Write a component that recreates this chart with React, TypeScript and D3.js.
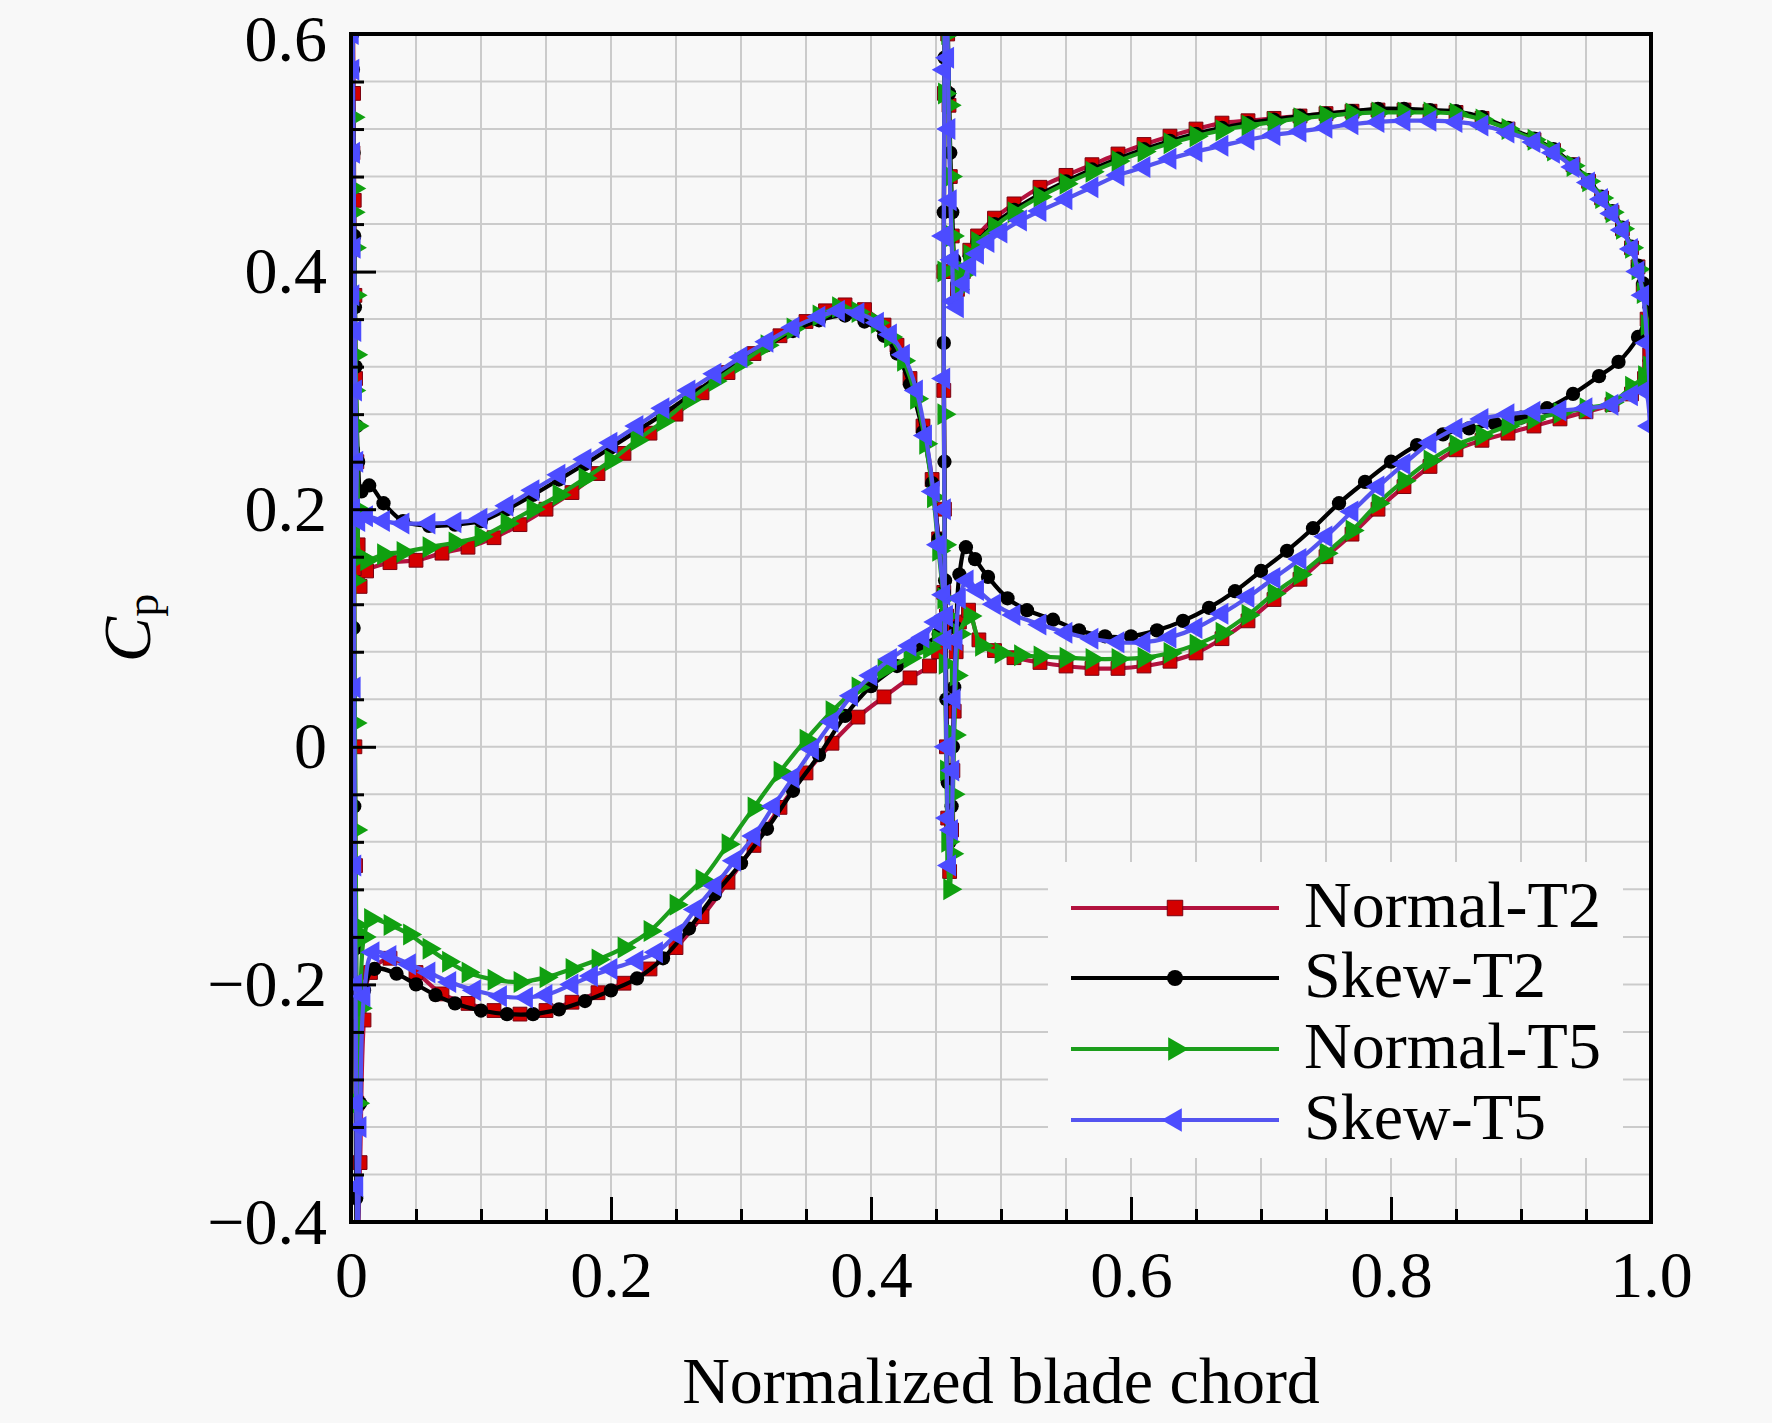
import * as d3 from "d3";
import React, { useEffect, useRef } from "react";

type Pt = [number, number];

// Normal-T2
const normalT2LeftUpper: Pt[] = [
  [0.0005, 0.9], [0.001, 0.72], [0.0015, 0.62], [0.002, 0.55], [0.0025, 0.46], [0.003, 0.38],
  [0.0035, 0.31], [0.0045, 0.24], [0.0055, 0.17], [0.007, 0.135], [0.012, 0.148],
  [0.03, 0.155], [0.05, 0.157], [0.07, 0.163], [0.09, 0.168], [0.11, 0.176], [0.13, 0.187],
  [0.15, 0.2], [0.17, 0.214], [0.19, 0.23], [0.21, 0.247], [0.23, 0.264], [0.25, 0.28],
  [0.27, 0.298], [0.29, 0.315], [0.31, 0.331], [0.33, 0.346], [0.35, 0.358], [0.365, 0.367],
  [0.38, 0.372], [0.395, 0.368], [0.41, 0.355], [0.42, 0.338], [0.43, 0.31], [0.44, 0.27],
  [0.447, 0.225], [0.452, 0.175], [0.456, 0.13], [0.458, 0.11],
];
const normalT2LeftLower: Pt[] = [
  [0.0005, 0.9], [0.001, 0.7], [0.0015, 0.5], [0.002, 0.3], [0.0025, 0.15], [0.003, 0.0],
  [0.0035, -0.1], [0.004, -0.2], [0.0045, -0.3], [0.005, -0.42], [0.007, -0.35],
  [0.01, -0.23], [0.015, -0.19], [0.03, -0.178], [0.05, -0.19], [0.07, -0.208], [0.09, -0.216],
  [0.11, -0.222], [0.13, -0.225], [0.15, -0.222], [0.17, -0.215], [0.19, -0.207], [0.21, -0.199],
  [0.23, -0.187], [0.25, -0.169], [0.27, -0.143], [0.29, -0.114], [0.31, -0.083], [0.33, -0.051],
  [0.35, -0.022], [0.37, 0.003], [0.39, 0.025], [0.41, 0.042], [0.43, 0.058], [0.445, 0.068],
  [0.452, 0.08], [0.458, 0.11],
];
const normalT2RightUpper: Pt[] = [
  [0.4575, 0.85], [0.458, 0.75], [0.4585, 0.66], [0.459, 0.6], [0.46, 0.54], [0.461, 0.48],
  [0.4625, 0.43], [0.464, 0.4], [0.4665, 0.385], [0.471, 0.4], [0.476, 0.418],
  [0.482, 0.43], [0.495, 0.445], [0.51, 0.457], [0.53, 0.471], [0.55, 0.481], [0.57, 0.49],
  [0.59, 0.499], [0.61, 0.507], [0.63, 0.514], [0.65, 0.52], [0.67, 0.525], [0.69, 0.527],
  [0.71, 0.529], [0.73, 0.531], [0.75, 0.533], [0.77, 0.535], [0.79, 0.536], [0.81, 0.536],
  [0.83, 0.535], [0.85, 0.534], [0.87, 0.529], [0.89, 0.52], [0.91, 0.511], [0.925, 0.502],
  [0.94, 0.49], [0.952, 0.476], [0.962, 0.462], [0.97, 0.45], [0.978, 0.436], [0.985, 0.42],
  [0.99, 0.404], [0.994, 0.385], [0.997, 0.36], [0.999, 0.33],
];
const normalT2RightLower: Pt[] = [
  [0.4575, 0.85], [0.457, 0.7], [0.4565, 0.55], [0.456, 0.4], [0.456, 0.3], [0.4565, 0.2],
  [0.457, 0.1], [0.458, 0.0], [0.459, -0.06], [0.4605, -0.105], [0.462, -0.07], [0.463, -0.02],
  [0.464, 0.03], [0.4655, 0.08], [0.468, 0.105], [0.475, 0.115], [0.483, 0.09], [0.495, 0.081],
  [0.51, 0.075], [0.53, 0.071], [0.55, 0.068], [0.57, 0.066], [0.59, 0.066], [0.61, 0.068],
  [0.63, 0.072], [0.65, 0.079], [0.67, 0.091], [0.69, 0.106], [0.71, 0.124], [0.73, 0.141],
  [0.75, 0.16], [0.77, 0.179], [0.79, 0.2], [0.81, 0.219], [0.83, 0.236], [0.85, 0.25],
  [0.87, 0.258], [0.89, 0.264], [0.91, 0.27], [0.93, 0.276], [0.95, 0.282], [0.97, 0.288],
  [0.985, 0.297], [0.995, 0.31], [0.999, 0.32],
];

// Skew-T2
const skewT2LeftUpper: Pt[] = [
  [0.0005, 0.9], [0.001, 0.68], [0.0015, 0.57], [0.002, 0.5], [0.0025, 0.43], [0.003, 0.37],
  [0.0035, 0.32], [0.0045, 0.27], [0.0055, 0.24], [0.008, 0.215],
  [0.014, 0.22], [0.025, 0.205], [0.04, 0.19], [0.06, 0.186], [0.08, 0.187], [0.1, 0.19],
  [0.12, 0.2], [0.14, 0.212], [0.16, 0.225], [0.18, 0.238], [0.2, 0.252], [0.22, 0.266],
  [0.24, 0.28], [0.26, 0.295], [0.28, 0.31], [0.3, 0.325], [0.32, 0.338], [0.34, 0.35],
  [0.36, 0.359], [0.38, 0.363], [0.395, 0.358], [0.41, 0.346], [0.42, 0.331], [0.43, 0.305],
  [0.44, 0.265], [0.447, 0.222], [0.452, 0.175], [0.456, 0.13], [0.458, 0.11],
];
const skewT2LeftLower: Pt[] = [
  [0.0005, 0.9], [0.001, 0.6], [0.0015, 0.25], [0.002, 0.1], [0.0025, -0.05], [0.003, -0.17],
  [0.0035, -0.3], [0.004, -0.38], [0.0045, -0.45], [0.007, -0.3],
  [0.01, -0.205], [0.018, -0.187], [0.035, -0.191], [0.05, -0.2], [0.065, -0.209], [0.08, -0.216],
  [0.1, -0.222], [0.12, -0.225], [0.14, -0.225], [0.16, -0.221], [0.18, -0.214], [0.2, -0.205],
  [0.22, -0.195], [0.24, -0.178], [0.26, -0.153], [0.28, -0.124], [0.3, -0.098], [0.32, -0.069],
  [0.34, -0.037], [0.36, -0.007], [0.38, 0.026], [0.4, 0.051], [0.42, 0.068], [0.44, 0.085],
  [0.452, 0.095], [0.458, 0.11],
];
const skewT2RightUpper: Pt[] = [
  [0.4575, 0.85], [0.458, 0.76], [0.4585, 0.68], [0.459, 0.61], [0.46, 0.55], [0.461, 0.5],
  [0.4625, 0.45], [0.464, 0.41], [0.4665, 0.39], [0.471, 0.398], [0.476, 0.413],
  [0.482, 0.425], [0.495, 0.44], [0.51, 0.452], [0.53, 0.465], [0.55, 0.476], [0.57, 0.486],
  [0.59, 0.495], [0.61, 0.503], [0.63, 0.51], [0.65, 0.516], [0.67, 0.521], [0.69, 0.525],
  [0.71, 0.528], [0.73, 0.531], [0.75, 0.533], [0.77, 0.535], [0.79, 0.537], [0.81, 0.537],
  [0.83, 0.536], [0.85, 0.535], [0.87, 0.53], [0.89, 0.521], [0.91, 0.512], [0.925, 0.503],
  [0.94, 0.49], [0.952, 0.477], [0.962, 0.463], [0.97, 0.451], [0.978, 0.437], [0.985, 0.421],
  [0.99, 0.405], [0.994, 0.39], [0.997, 0.38], [0.999, 0.37],
];
const skewT2RightLower: Pt[] = [
  [0.4575, 0.85], [0.457, 0.72], [0.4565, 0.58], [0.456, 0.45], [0.456, 0.34], [0.4565, 0.24],
  [0.457, 0.14], [0.458, 0.04], [0.459, -0.03], [0.4605, -0.08], [0.462, -0.05], [0.463, 0.0],
  [0.464, 0.05], [0.4655, 0.1], [0.468, 0.145], [0.473, 0.168], [0.48, 0.158], [0.49, 0.143],
  [0.505, 0.125], [0.52, 0.115], [0.54, 0.107], [0.56, 0.098], [0.58, 0.093], [0.6, 0.093],
  [0.62, 0.098], [0.64, 0.106], [0.66, 0.117], [0.68, 0.131], [0.7, 0.148], [0.72, 0.165],
  [0.74, 0.184], [0.76, 0.205], [0.78, 0.223], [0.8, 0.24], [0.82, 0.254], [0.84, 0.263],
  [0.86, 0.268], [0.88, 0.272], [0.9, 0.277], [0.92, 0.285], [0.94, 0.297], [0.96, 0.312],
  [0.975, 0.324], [0.99, 0.345], [0.999, 0.37],
];

// Normal-T5
const normalT5LeftUpper: Pt[] = [
  [0.0005, 0.9], [0.001, 0.62], [0.0015, 0.53], [0.002, 0.47], [0.0025, 0.42], [0.003, 0.38],
  [0.0035, 0.33], [0.0045, 0.27], [0.0055, 0.2], [0.007, 0.16], [0.012, 0.157],
  [0.025, 0.162], [0.04, 0.164], [0.06, 0.168], [0.08, 0.172], [0.1, 0.177], [0.12, 0.188],
  [0.14, 0.2], [0.16, 0.212], [0.18, 0.226], [0.2, 0.241], [0.22, 0.258], [0.24, 0.274],
  [0.26, 0.292], [0.28, 0.308], [0.3, 0.323], [0.32, 0.338], [0.34, 0.352], [0.36, 0.363],
  [0.375, 0.37], [0.39, 0.366], [0.405, 0.357], [0.415, 0.345], [0.425, 0.325], [0.435, 0.293],
  [0.442, 0.255], [0.448, 0.21], [0.452, 0.165], [0.456, 0.125], [0.458, 0.11],
];
const normalT5LeftLower: Pt[] = [
  [0.0005, 0.9], [0.001, 0.68], [0.0015, 0.45], [0.002, 0.3], [0.0025, 0.14], [0.003, 0.02],
  [0.0035, -0.07], [0.004, -0.15], [0.005, -0.3], [0.007, -0.22],
  [0.01, -0.16], [0.015, -0.145], [0.03, -0.15], [0.045, -0.158], [0.06, -0.17], [0.075, -0.181],
  [0.09, -0.19], [0.11, -0.196], [0.13, -0.198], [0.15, -0.194], [0.17, -0.187], [0.19, -0.179],
  [0.21, -0.169], [0.23, -0.155], [0.25, -0.133], [0.27, -0.112], [0.29, -0.082], [0.31, -0.051],
  [0.33, -0.021], [0.35, 0.006], [0.37, 0.03], [0.39, 0.05], [0.41, 0.065], [0.43, 0.075],
  [0.445, 0.083], [0.452, 0.09], [0.458, 0.11],
];
const normalT5RightUpper: Pt[] = [
  [0.4575, 0.85], [0.458, 0.75], [0.4585, 0.66], [0.459, 0.6], [0.46, 0.54], [0.461, 0.48],
  [0.4625, 0.43], [0.464, 0.405], [0.4665, 0.385], [0.471, 0.398], [0.476, 0.414],
  [0.482, 0.425], [0.495, 0.438], [0.51, 0.45], [0.53, 0.463], [0.55, 0.474], [0.57, 0.484],
  [0.59, 0.493], [0.61, 0.501], [0.63, 0.508], [0.65, 0.514], [0.67, 0.519], [0.69, 0.523],
  [0.71, 0.526], [0.73, 0.529], [0.75, 0.531], [0.77, 0.533], [0.79, 0.534], [0.81, 0.534],
  [0.83, 0.534], [0.85, 0.533], [0.87, 0.528], [0.89, 0.52], [0.91, 0.511], [0.925, 0.502],
  [0.94, 0.489], [0.952, 0.476], [0.962, 0.462], [0.97, 0.45], [0.978, 0.436], [0.985, 0.42],
  [0.99, 0.402], [0.994, 0.382], [0.997, 0.355], [0.999, 0.32],
];
const normalT5RightLower: Pt[] = [
  [0.4575, 0.85], [0.457, 0.7], [0.4565, 0.55], [0.456, 0.4], [0.456, 0.28], [0.4565, 0.17],
  [0.457, 0.07], [0.458, -0.02], [0.459, -0.08], [0.4605, -0.12], [0.462, -0.09], [0.463, -0.04],
  [0.464, 0.01], [0.4655, 0.06], [0.468, 0.095], [0.476, 0.11], [0.485, 0.085], [0.5, 0.079],
  [0.515, 0.077], [0.53, 0.076], [0.55, 0.075], [0.57, 0.074], [0.59, 0.074], [0.61, 0.075],
  [0.63, 0.079], [0.65, 0.086], [0.67, 0.096], [0.69, 0.111], [0.71, 0.129], [0.73, 0.145],
  [0.75, 0.163], [0.77, 0.182], [0.79, 0.205], [0.81, 0.224], [0.83, 0.241], [0.85, 0.254],
  [0.87, 0.262], [0.89, 0.27], [0.91, 0.276], [0.93, 0.281], [0.95, 0.285], [0.97, 0.29],
  [0.985, 0.303], [0.995, 0.312], [0.999, 0.32],
];

// Skew-T5
const skewT5LeftUpper: Pt[] = [
  [0.0005, 0.9], [0.001, 0.66], [0.0015, 0.57], [0.002, 0.5], [0.0025, 0.42], [0.003, 0.35],
  [0.0035, 0.3], [0.0045, 0.24], [0.006, 0.19], [0.012, 0.194],
  [0.025, 0.19], [0.04, 0.188], [0.06, 0.188], [0.08, 0.189], [0.1, 0.192], [0.12, 0.203],
  [0.14, 0.216], [0.16, 0.229], [0.18, 0.242], [0.2, 0.256], [0.22, 0.27], [0.24, 0.285],
  [0.26, 0.3], [0.28, 0.314], [0.3, 0.328], [0.32, 0.341], [0.34, 0.353], [0.36, 0.362],
  [0.375, 0.367], [0.39, 0.365], [0.405, 0.357], [0.415, 0.347], [0.425, 0.33], [0.435, 0.3],
  [0.442, 0.262], [0.448, 0.215], [0.452, 0.17], [0.456, 0.128], [0.458, 0.11],
];
const skewT5LeftLower: Pt[] = [
  [0.0005, 0.9], [0.001, 0.6], [0.0015, 0.38], [0.002, 0.2], [0.0025, 0.05], [0.003, -0.1],
  [0.0035, -0.2], [0.004, -0.3], [0.0045, -0.37], [0.005, -0.42], [0.007, -0.32],
  [0.01, -0.21], [0.017, -0.173], [0.03, -0.176], [0.045, -0.183], [0.06, -0.19], [0.076, -0.198],
  [0.095, -0.205], [0.115, -0.21], [0.135, -0.211], [0.15, -0.209], [0.17, -0.2], [0.185, -0.193],
  [0.2, -0.187], [0.22, -0.18], [0.235, -0.173], [0.25, -0.158], [0.265, -0.137], [0.28, -0.117],
  [0.295, -0.096], [0.31, -0.075], [0.325, -0.05], [0.34, -0.026], [0.355, -0.002], [0.37, 0.021],
  [0.385, 0.043], [0.4, 0.06], [0.415, 0.074], [0.43, 0.085], [0.44, 0.092], [0.45, 0.105],
  [0.458, 0.11],
];
const skewT5RightUpper: Pt[] = [
  [0.4575, 0.85], [0.458, 0.74], [0.4585, 0.65], [0.459, 0.58], [0.46, 0.52], [0.461, 0.46],
  [0.4625, 0.41], [0.464, 0.375], [0.4665, 0.37], [0.471, 0.39], [0.476, 0.405],
  [0.482, 0.415], [0.49, 0.425], [0.5, 0.433], [0.515, 0.443], [0.53, 0.451], [0.55, 0.461],
  [0.57, 0.471], [0.59, 0.481], [0.61, 0.488], [0.63, 0.495], [0.65, 0.501], [0.67, 0.506],
  [0.69, 0.511], [0.71, 0.515], [0.73, 0.518], [0.75, 0.521], [0.77, 0.524], [0.79, 0.526],
  [0.81, 0.527], [0.83, 0.527], [0.85, 0.526], [0.87, 0.523], [0.89, 0.517], [0.91, 0.509],
  [0.925, 0.5], [0.94, 0.488], [0.952, 0.475], [0.962, 0.461], [0.97, 0.449], [0.978, 0.435],
  [0.985, 0.419], [0.99, 0.4], [0.994, 0.38], [0.997, 0.34], [0.999, 0.3],
];
const skewT5RightLower: Pt[] = [
  [0.4575, 0.85], [0.457, 0.71], [0.4565, 0.57], [0.456, 0.43], [0.456, 0.31], [0.4565, 0.2],
  [0.457, 0.09], [0.458, 0.0], [0.459, -0.06], [0.4605, -0.1], [0.462, -0.07], [0.463, -0.02],
  [0.464, 0.04], [0.4655, 0.09], [0.468, 0.125], [0.474, 0.14], [0.482, 0.132], [0.495, 0.12],
  [0.51, 0.111], [0.53, 0.103], [0.55, 0.096], [0.57, 0.091], [0.59, 0.088], [0.61, 0.088],
  [0.63, 0.092], [0.65, 0.1], [0.67, 0.112], [0.69, 0.126], [0.71, 0.142], [0.73, 0.158],
  [0.75, 0.177], [0.77, 0.198], [0.79, 0.219], [0.81, 0.238], [0.83, 0.256], [0.85, 0.268],
  [0.87, 0.276], [0.89, 0.28], [0.91, 0.282], [0.93, 0.283], [0.95, 0.285], [0.97, 0.288],
  [0.985, 0.296], [0.995, 0.3], [0.999, 0.27],
];

const seriesNames = ["Normal-T2", "Skew-T2", "Normal-T5", "Skew-T5"];
const lineColors = ["#b3123e", "#000000", "#1c9e1c", "#5454f0"];
const markerColors = ["#d40000", "#000000", "#10a010", "#4c4cff"];

const xMajorTicks = [0, 0.2, 0.4, 0.6, 0.8, 1.0];
const xMinorTicks = [0.05, 0.1, 0.15, 0.25, 0.3, 0.35, 0.45, 0.5, 0.55, 0.65, 0.7, 0.75, 0.85, 0.9, 0.95];
const yMajorTicks = [-0.4, -0.2, 0, 0.2, 0.4, 0.6];
const yMinorTicks = [
  -0.36, -0.32, -0.28, -0.24, -0.16, -0.12, -0.08, -0.04, 0.04, 0.08, 0.12, 0.16,
  0.24, 0.28, 0.32, 0.36, 0.44, 0.48, 0.52, 0.56,
];

const W = 1772;
const H = 1423;
const margin = { left: 351, right: 121, top: 34, bottom: 201 };
const FONT = "'Liberation Serif', 'Times New Roman', serif";

const App = () => {
  const svgRef = useRef<SVGSVGElement>(null);

  useEffect(() => {
    const svg = d3.select(svgRef.current);
    svg.selectAll("*").remove();

    const x0 = margin.left;
    const x1 = W - margin.right;
    const y0 = margin.top;
    const y1 = H - margin.bottom;

    const x = d3.scaleLinear().domain([0, 1]).range([x0, x1]);
    const y = d3.scaleLinear().domain([-0.4, 0.6]).range([y1, y0]);

    svg.append("rect").attr("width", W).attr("height", H).attr("fill", "#f8f8f8");

    const defs = svg.append("defs");
    defs
      .append("clipPath")
      .attr("id", "plotClip")
      .append("rect")
      .attr("x", x0)
      .attr("y", y0)
      .attr("width", x1 - x0)
      .attr("height", y1 - y0);

    // grid
    const grid = svg.append("g").attr("stroke", "#cbcbcb").attr("stroke-width", 2);
    [...xMinorTicks, ...xMajorTicks.filter((v) => v > 0 && v < 1)].forEach((v) => {
      grid.append("line").attr("x1", x(v)).attr("x2", x(v)).attr("y1", y0).attr("y2", y1);
    });
    [...yMinorTicks, ...yMajorTicks.filter((v) => v > -0.4 && v < 0.6)].forEach((v) => {
      grid.append("line").attr("x1", x0).attr("x2", x1).attr("y1", y(v)).attr("y2", y(v));
    });

    // curves
    const branches: Pt[][][] = [
      [normalT2LeftUpper, normalT2LeftLower, normalT2RightUpper, normalT2RightLower],
      [skewT2LeftUpper, skewT2LeftLower, skewT2RightUpper, skewT2RightLower],
      [normalT5LeftUpper, normalT5LeftLower, normalT5RightUpper, normalT5RightLower],
      [skewT5LeftUpper, skewT5LeftLower, skewT5RightUpper, skewT5RightLower],
    ];
    const symbols = [d3.symbolSquare, d3.symbolCircle, d3.symbolTriangle, d3.symbolTriangle];
    const rotations = [0, 0, 90, -90];
    const plotSizes = [190, 160, 210, 210];
    const legendSizes = [240, 200, 240, 240];

    const line = d3
      .line<Pt>()
      .x((d) => x(d[0]))
      .y((d) => y(d[1]))
      .curve(d3.curveCatmullRom.alpha(0.5));

    const plot = svg.append("g").attr("clip-path", "url(#plotClip)");
    branches.forEach((set, i) => {
      const g = plot.append("g");
      set.forEach((pts) => {
        g.append("path")
          .attr("d", line(pts))
          .attr("fill", "none")
          .attr("stroke", lineColors[i])
          .attr("stroke-width", 4.2)
          .attr("stroke-linejoin", "round");
      });
      const sym = d3.symbol().type(symbols[i]).size(plotSizes[i]);
      set.forEach((pts) => {
        g.selectAll(null)
          .data(pts)
          .enter()
          .append("path")
          .attr("d", sym())
          .attr("transform", (d) => `translate(${x(d[0])},${y(d[1])}) rotate(${rotations[i]})`)
          .attr("fill", markerColors[i])
          .attr("stroke", i === 0 ? "#7a0010" : "none")
          .attr("stroke-width", 1);
      });
    });

    // ticks and labels
    const fmt = (v: number) => (v === 0 ? "0" : d3.format(".1f")(v));

    const bottomMinor = svg
      .append("g")
      .attr("transform", `translate(0,${y1})`)
      .call(d3.axisBottom(x).tickValues(xMinorTicks).tickSizeInner(-13).tickSizeOuter(0).tickFormat(() => ""));
    const bottomMajor = svg
      .append("g")
      .attr("transform", `translate(0,${y1})`)
      .call(
        d3
          .axisBottom(x)
          .tickValues(xMajorTicks)
          .tickSizeInner(-25)
          .tickSizeOuter(0)
          .tickPadding(28)
          .tickFormat((v) => fmt(v as number))
      );
    const leftMinor = svg
      .append("g")
      .attr("transform", `translate(${x0},0)`)
      .call(d3.axisLeft(y).tickValues(yMinorTicks).tickSizeInner(-13).tickSizeOuter(0).tickFormat(() => ""));
    const leftMajor = svg
      .append("g")
      .attr("transform", `translate(${x0},0)`)
      .call(
        d3
          .axisLeft(y)
          .tickValues(yMajorTicks)
          .tickSizeInner(-25)
          .tickSizeOuter(0)
          .tickPadding(24)
          .tickFormat((v) => fmt(v as number))
      );
    [bottomMinor, bottomMajor, leftMinor, leftMajor].forEach((g) => {
      g.select(".domain").remove();
      g.selectAll(".tick line").attr("stroke", "#000").attr("stroke-width", 3);
      g.selectAll(".tick text")
        .attr("fill", "#000")
        .style("font-family", FONT)
        .style("font-size", "66px");
    });
    // keep the top label inside the picture
    leftMajor
      .selectAll<SVGTextElement, number>(".tick text")
      .filter((d) => d === 0.6)
      .attr("dy", "0.4em");

    // frame
    svg
      .append("rect")
      .attr("x", x0)
      .attr("y", y0)
      .attr("width", x1 - x0)
      .attr("height", y1 - y0)
      .attr("fill", "none")
      .attr("stroke", "#000")
      .attr("stroke-width", 4);

    // axis titles
    svg
      .append("text")
      .attr("x", (x0 + x1) / 2)
      .attr("y", 1403)
      .attr("text-anchor", "middle")
      .style("font-family", FONT)
      .style("font-size", "66px")
      .attr("fill", "#000")
      .text("Normalized blade chord");

    const yTitle = svg
      .append("text")
      .attr("transform", `translate(150,${(y0 + y1) / 2}) rotate(-90)`)
      .attr("text-anchor", "middle")
      .style("font-family", FONT)
      .style("font-size", "68px")
      .attr("fill", "#000");
    yTitle.append("tspan").style("font-style", "italic").text("C");
    yTitle.append("tspan").attr("dy", 8).style("font-size", "46px").text("p");

    // legend
    const legend = svg.append("g");
    legend
      .append("rect")
      .attr("x", 1048)
      .attr("y", 862)
      .attr("width", 575)
      .attr("height", 296)
      .attr("fill", "#f8f8f8");
    const rows = [908, 978, 1049, 1120];
    seriesNames.forEach((name, i) => {
      const ry = rows[i];
      legend
        .append("line")
        .attr("x1", 1071)
        .attr("x2", 1279)
        .attr("y1", ry)
        .attr("y2", ry)
        .attr("stroke", lineColors[i])
        .attr("stroke-width", 4);
      legend
        .append("path")
        .attr("d", d3.symbol().type(symbols[i]).size(legendSizes[i])())
        .attr("transform", `translate(1175,${ry}) rotate(${rotations[i]})`)
        .attr("fill", markerColors[i])
        .attr("stroke", i === 0 ? "#7a0010" : "none");
      legend
        .append("text")
        .attr("x", 1304)
        .attr("y", ry + 19)
        .style("font-family", FONT)
        .style("font-size", "66px")
        .attr("fill", "#000")
        .text(name);
    });
  }, []);

  return (
    <svg
      ref={svgRef}
      width={W}
      height={H}
      style={{ position: "absolute", left: 0, top: 0, display: "block" }}
    />
  );
};

export default App;
